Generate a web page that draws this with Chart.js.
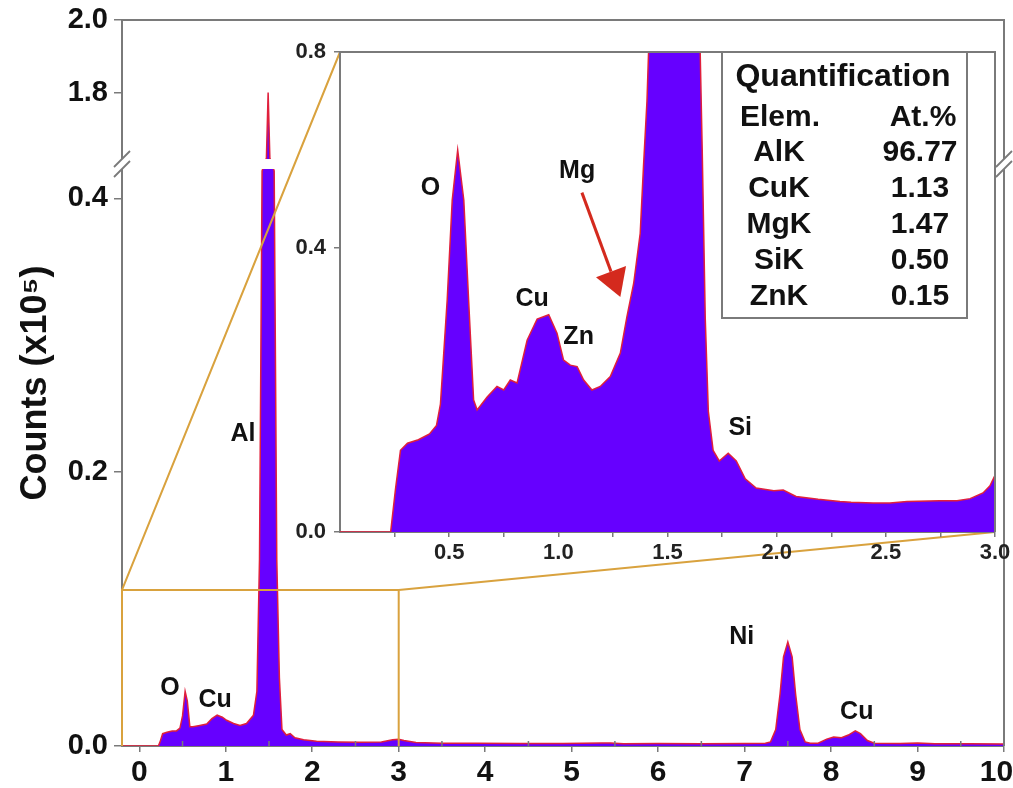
<!DOCTYPE html>
<html>
<head>
<meta charset="utf-8">
<script src="https://cdn.jsdelivr.net/npm/chart.js@4.4.1/dist/chart.umd.min.js"></script>
<style>
  html, body { margin: 0; padding: 0; background: #fff; overflow: hidden; }
  #wrap { position: relative; width: 1013px; height: 788px; }
  #main { position: absolute; left: 0; top: 0; }
  #inset { position: absolute; left: 270px; top: 30px; }
</style>
</head>
<body>
<div id="wrap">
  <canvas id="main" width="1013" height="788"></canvas>
  <canvas id="inset" width="743" height="540"></canvas>
</div>
<script>
// ---------- spectrum data (energy in keV, counts in units of 10^5) ----------
const mainEnergy = [-0.2, 0.22, 0.24, 0.27, 0.32, 0.38, 0.43, 0.47, 0.50, 0.53, 0.555, 0.585, 0.62, 0.70, 0.78, 0.84,
  0.90, 0.96, 1.01, 1.09, 1.165, 1.24, 1.32, 1.36, 1.39, 1.42, 1.47, 1.49, 1.51, 1.56, 1.59, 1.62, 1.65, 1.70, 1.745,
  1.80, 1.90, 2.05, 2.3, 2.55, 2.8, 2.93, 3.0, 3.06, 3.2, 3.5, 3.9, 4.4, 4.9, 5.35, 5.45, 5.6, 6.0, 6.5, 7.0, 7.24,
  7.30, 7.36, 7.41, 7.45, 7.50, 7.55, 7.59, 7.64, 7.70, 7.76, 7.85, 7.95, 8.03, 8.12, 8.20, 8.28, 8.34, 8.42, 8.50,
  8.8, 9.0, 9.2, 9.6, 10.0];
const mainCounts = [0, 0, 0.003, 0.009, 0.010, 0.011, 0.011, 0.013, 0.022, 0.040, 0.033, 0.014, 0.014, 0.015, 0.016, 0.020,
  0.0225, 0.021, 0.0188, 0.0164, 0.015, 0.0164, 0.0224, 0.040, 0.136, 0.42, 1.62, 1.80, 1.62, 0.42, 0.136, 0.05, 0.012, 0.008, 0.009,
  0.006, 0.0045, 0.0035, 0.003, 0.0028, 0.003, 0.0045, 0.005, 0.004, 0.0025, 0.002, 0.002, 0.0018, 0.0018, 0.0022, 0.0022, 0.0017, 0.0018, 0.0016, 0.0018, 0.002,
  0.003, 0.012, 0.038, 0.065, 0.076, 0.065, 0.038, 0.012, 0.003, 0.002, 0.002, 0.005, 0.0065, 0.006, 0.008, 0.011, 0.009, 0.004, 0.002,
  0.0018, 0.0022, 0.0017, 0.0016, 0.0015];

// low-energy detail, 0–3 keV
const insetEnergy = [0, 0.232, 0.254, 0.277, 0.309, 0.359, 0.41, 0.442, 0.46, 0.491, 0.514, 0.539, 0.567, 0.589, 0.612, 0.628,
  0.674, 0.719, 0.750, 0.780, 0.811, 0.857, 0.903, 0.956, 0.994, 1.024, 1.055, 1.086, 1.116, 1.154, 1.192, 1.238, 1.284, 1.314,
  1.345, 1.375, 1.39, 1.406, 1.417, 1.467, 1.535, 1.604, 1.645, 1.659, 1.673, 1.687, 1.709, 1.737, 1.778, 1.815, 1.856, 1.906,
  1.987, 2.03, 2.089, 2.19, 2.29, 2.341, 2.442, 2.519, 2.597, 2.748, 2.826, 2.886, 2.945, 2.977, 3.0];
const insetCounts = [0, 0, 0.06, 0.115, 0.125, 0.13, 0.138, 0.15, 0.18, 0.327, 0.498, 0.60, 0.498, 0.327, 0.186, 0.172,
  0.19, 0.205, 0.20, 0.214, 0.21, 0.27, 0.30, 0.306, 0.28, 0.242, 0.235, 0.233, 0.214, 0.20, 0.205, 0.219, 0.252, 0.303,
  0.35, 0.43, 0.566, 0.70, 0.85, 1.3, 1.5, 1.2, 0.9, 0.6, 0.3, 0.17, 0.115, 0.10, 0.111, 0.10, 0.075, 0.062,
  0.058, 0.059, 0.05, 0.046, 0.043, 0.042, 0.041, 0.041, 0.043, 0.044, 0.044, 0.047, 0.055, 0.065, 0.08];

// ---------- ticks ----------
const mainXTicks = [0, 1, 2, 3, 4, 5, 6, 7, 8, 9, 10];
const mainXMinorTicks = [0.5, 1.5, 2.5, 3.5, 4.5, 5.5, 6.5, 7.5, 8.5, 9.5];
const mainYTicks = [0, 0.2, 0.4, 1.8, 2.0];
const insetXTicks = [0.25, 0.5, 0.75, 1.0, 1.25, 1.5, 1.75, 2.0, 2.25, 2.5, 2.75, 3.0];
const insetYTicks = [0, 0.4, 0.8];

// ---------- peak annotations ----------
const mainPeakNames = ['O', 'Cu', 'Al', 'Ni', 'Cu'];
const mainPeakAnchorX = [0.356, 0.878, 1.2, 6.966, 8.297];
const mainPeakAnchorY = [0.042, 0.0334, 0.228, 0.0797, 0.0248];
const insetPeakNames = ['O', 'Cu', 'Zn', 'Mg', 'Si'];
const insetPeakAnchorX = [0.414, 0.880, 1.093, 1.086, 1.833];
const insetPeakAnchorY = [0.522, 0.328, 0.275, 0.556, 0.146];
const mgArrowFrom = [1.108, 0.513];
const mgArrowTo = [1.284, 0.331];

// ---------- quantification table ----------
const quantElements = ['AlK', 'CuK', 'MgK', 'SiK', 'ZnK'];
const quantAtPct = [96.77, 1.13, 1.47, 0.50, 0.15];

// ---------- axis layout (break in the value axis, zoom window) ----------
const breakLow = 0.4207, breakHigh = 1.62;
const mainYStops = [[0, 0], [breakLow, 0.7934], [breakHigh, 0.8099], [2.0, 1]];
const insetYStops = [[0, 0], [0.4, 0.5917], [0.8, 1]];
const zoomFrom = -0.2, zoomTo = 3.0, zoomCeiling = 0.114;

const FONT = "'Liberation Sans', Arial, Helvetica, sans-serif";
const FILL = '#6600ff';
const EDGE = '#e0203c';
const AXIS = '#7a7a7a';
const ZOOM = '#d9a23e';

// Linear scale whose value-to-pixel mapping is piecewise linear between "stops"
class PiecewiseScale extends Chart.LinearScale {
  static id = 'piecewise';
  getPixelForValue(value) {
    if (value === null || value === undefined || isNaN(value)) return NaN;
    const s = this.options.stops;
    let i = 0;
    while (i < s.length - 2 && value > s[i + 1][0]) i++;
    const [v0, f0] = s[i], [v1, f1] = s[i + 1];
    return this.getPixelForDecimal(f0 + (value - v0) * (f1 - f0) / (v1 - v0));
  }
  getValueForPixel(pixel) {
    const dec = this.getDecimalForPixel(pixel);
    const s = this.options.stops;
    let i = 0;
    while (i < s.length - 2 && dec > s[i + 1][1]) i++;
    const [v0, f0] = s[i], [v1, f1] = s[i + 1];
    return v0 + (dec - f0) * (v1 - v0) / (f1 - f0);
  }
}
Chart.register(PiecewiseScale);

const toPoints = (xs, ys) => xs.map((x, i) => ({ x, y: ys[i] }));
const boldFont = size => ({ family: FONT, size, weight: 'bold' });

function drawLabel(ctx, text, px, py, size) {
  ctx.font = `bold ${size}px ${FONT}`;
  ctx.fillStyle = '#111';
  ctx.textAlign = 'center';
  ctx.textBaseline = 'middle';
  ctx.fillText(text, px, py);
}

// ---------- inset: 0–3 keV detail with quantification ----------
const insetCanvas = document.getElementById('inset');
const insetDecor = {
  id: 'insetDecor',
  afterDraw(chart) {
    const { ctx, chartArea: a, scales: { x, y } } = chart;
    ctx.save();
    ctx.strokeStyle = AXIS;
    ctx.lineWidth = 2;
    ctx.beginPath();
    ctx.moveTo(a.left, a.top); ctx.lineTo(a.right, a.top); ctx.lineTo(a.right, a.bottom);
    ctx.stroke();

    insetPeakNames.forEach((t, i) =>
      drawLabel(ctx, t, x.getPixelForValue(insetPeakAnchorX[i]), y.getPixelForValue(insetPeakAnchorY[i]), 25));

    // Mg arrow
    const x0 = x.getPixelForValue(mgArrowFrom[0]), y0 = y.getPixelForValue(mgArrowFrom[1]);
    const x1 = x.getPixelForValue(mgArrowTo[0]), y1 = y.getPixelForValue(mgArrowTo[1]);
    const ang = Math.atan2(y1 - y0, x1 - x0), headLen = 27, headHalf = 16;
    const bx = x1 - headLen * Math.cos(ang), by = y1 - headLen * Math.sin(ang);
    ctx.strokeStyle = '#d42a1e'; ctx.fillStyle = '#d42a1e'; ctx.lineWidth = 3;
    ctx.beginPath(); ctx.moveTo(x0, y0); ctx.lineTo(bx, by); ctx.stroke();
    ctx.beginPath();
    ctx.moveTo(x1, y1);
    ctx.lineTo(bx + headHalf * Math.sin(ang), by - headHalf * Math.cos(ang));
    ctx.lineTo(bx - headHalf * Math.sin(ang), by + headHalf * Math.cos(ang));
    ctx.closePath(); ctx.fill();

    // quantification table
    const bw = 245, bh = 266, bl = a.right - 28 - bw, bt = a.top;
    ctx.fillStyle = '#fff';
    ctx.fillRect(bl, bt, bw, bh);
    ctx.strokeStyle = AXIS; ctx.lineWidth = 2;
    ctx.strokeRect(bl, bt, bw, bh);
    drawLabel(ctx, 'Quantification', bl + 121, bt + 25, 32);
    drawLabel(ctx, 'Elem.', bl + 58, bt + 66, 30);
    drawLabel(ctx, 'At.%', bl + 201, bt + 66, 30);
    quantElements.forEach((el, i) => {
      drawLabel(ctx, el, bl + 57, bt + 101 + 36 * i, 30);
      drawLabel(ctx, quantAtPct[i].toFixed(2), bl + 198, bt + 101 + 36 * i, 30);
    });
    ctx.restore();
  }
};

const insetChart = new Chart(insetCanvas, {
  type: 'line',
  data: {
    datasets: [{
      data: toPoints(insetEnergy, insetCounts),
      fill: 'start',
      backgroundColor: FILL,
      borderColor: EDGE,
      borderWidth: 1.5,
      pointRadius: 0,
      tension: 0
    }]
  },
  options: {
    responsive: false,
    animation: false,
    devicePixelRatio: 1,
    events: [],
    layout: { autoPadding: false, padding: { left: 0, top: 22, right: 18, bottom: 0 } },
    plugins: { legend: { display: false }, tooltip: { enabled: false } },
    scales: {
      x: {
        type: 'linear', min: 0, max: 3.0,
        afterBuildTicks: s => { s.ticks = insetXTicks.map(v => ({ value: v })); },
        afterFit: s => { s.height = 38; s.paddingLeft = 0; s.paddingRight = 0; },
        ticks: {
          autoSkip: false, maxRotation: 0, padding: 3, color: '#222', font: boldFont(22),
          callback: v => (Math.abs(v * 2 - Math.round(v * 2)) < 1e-6 ? v.toFixed(1) : '')
        },
        grid: { drawOnChartArea: false, tickLength: 5, color: AXIS, lineWidth: 1.5 },
        border: { color: AXIS, width: 2 }
      },
      y: {
        type: 'piecewise', stops: insetYStops, min: 0, max: 0.8,
        afterBuildTicks: s => { s.ticks = insetYTicks.map(v => ({ value: v })); },
        afterFit: s => { s.width = 70; s.paddingTop = 0; s.paddingBottom = 0; },
        ticks: { padding: 8, color: '#222', font: boldFont(22), callback: v => v.toFixed(1) },
        grid: { drawOnChartArea: false, tickLength: 6, color: AXIS, lineWidth: 1.5 },
        border: { color: AXIS, width: 2 }
      }
    }
  },
  plugins: [insetDecor]
});

// ---------- full spectrum 0–10 keV with broken count axis ----------
const mainDecor = {
  id: 'mainDecor',
  afterDraw(chart) {
    const { ctx, chartArea: a, scales: { x, y } } = chart;
    ctx.save();
    const gTop = y.getPixelForValue(breakHigh), gBot = y.getPixelForValue(breakLow);

    // gap of the broken axis
    ctx.fillStyle = '#fff';
    ctx.fillRect(a.left - 12, gTop + 1, a.right - a.left + 24, gBot - gTop - 2);

    // frame
    ctx.strokeStyle = AXIS; ctx.lineWidth = 2;
    ctx.beginPath();
    ctx.moveTo(a.left, a.top); ctx.lineTo(a.right, a.top); ctx.lineTo(a.right, gTop + 1);
    ctx.moveTo(a.right, gBot - 1); ctx.lineTo(a.right, a.bottom);
    ctx.stroke();

    // break marks
    const yb = (gTop + gBot) / 2;
    ctx.lineWidth = 1.8;
    ctx.beginPath();
    [a.left, a.right].forEach(xb => {
      [-5, 5].forEach(d => { ctx.moveTo(xb - 8, yb + d + 8); ctx.lineTo(xb + 8, yb + d - 8); });
    });
    ctx.stroke();

    // minor ticks
    ctx.lineWidth = 1.5;
    ctx.beginPath();
    mainXMinorTicks.forEach(v => {
      const px = x.getPixelForValue(v);
      ctx.moveTo(px, a.bottom); ctx.lineTo(px, a.bottom - 5);
    });
    ctx.stroke();

    // zoom window and connectors to the detail plot
    const zx0 = x.getPixelForValue(zoomFrom), zx1 = x.getPixelForValue(zoomTo), zy = y.getPixelForValue(zoomCeiling);
    const ia = insetChart.chartArea, ox = insetCanvas.offsetLeft, oy = insetCanvas.offsetTop;
    ctx.strokeStyle = ZOOM; ctx.lineWidth = 2;
    ctx.beginPath();
    ctx.moveTo(zx0, a.bottom); ctx.lineTo(zx0, zy); ctx.lineTo(zx1, zy); ctx.lineTo(zx1, a.bottom);
    ctx.moveTo(zx0, zy); ctx.lineTo(ox + ia.left, oy + ia.top);
    ctx.moveTo(zx1, zy); ctx.lineTo(ox + ia.right, oy + ia.bottom);
    ctx.stroke();

    mainPeakNames.forEach((t, i) =>
      drawLabel(ctx, t, x.getPixelForValue(mainPeakAnchorX[i]), y.getPixelForValue(mainPeakAnchorY[i]), 25));
    ctx.restore();
  }
};

new Chart(document.getElementById('main'), {
  type: 'line',
  data: {
    datasets: [{
      data: toPoints(mainEnergy, mainCounts),
      fill: 'start',
      backgroundColor: FILL,
      borderColor: EDGE,
      borderWidth: 1.5,
      pointRadius: 0,
      tension: 0
    }]
  },
  options: {
    responsive: false,
    animation: false,
    devicePixelRatio: 1,
    events: [],
    layout: { autoPadding: false, padding: { left: 0, top: 20, right: 9, bottom: 0 } },
    plugins: { legend: { display: false }, tooltip: { enabled: false } },
    scales: {
      x: {
        type: 'linear', min: -0.2, max: 10,
        afterBuildTicks: s => { s.ticks = mainXTicks.map(v => ({ value: v })); },
        afterFit: s => { s.height = 42; s.paddingLeft = 0; s.paddingRight = 0; },
        ticks: {
          autoSkip: false, maxRotation: 0, padding: 3, color: '#111', font: boldFont(30),
          callback: v => (v === 10 ? '10\u2002' : String(v))
        },
        grid: { drawOnChartArea: false, tickLength: 6, color: AXIS, lineWidth: 1.5 },
        border: { color: AXIS, width: 2 }
      },
      y: {
        type: 'piecewise', stops: mainYStops, min: 0, max: 2.0,
        afterBuildTicks: s => { s.ticks = mainYTicks.map(v => ({ value: v })); },
        afterFit: s => { s.width = 122; s.paddingTop = 0; s.paddingBottom = 0; },
        ticks: { padding: 6, color: '#111', font: boldFont(29), callback: v => v.toFixed(1) },
        grid: { drawOnChartArea: false, tickLength: 8, color: AXIS, lineWidth: 1.5 },
        border: { color: AXIS, width: 2 },
        title: {
          display: true, text: 'Counts (x10\u2075)', color: '#111',
          font: boldFont(36), padding: { top: 14, bottom: 0 }
        }
      }
    }
  },
  plugins: [mainDecor]
});
</script>
</body>
</html>
